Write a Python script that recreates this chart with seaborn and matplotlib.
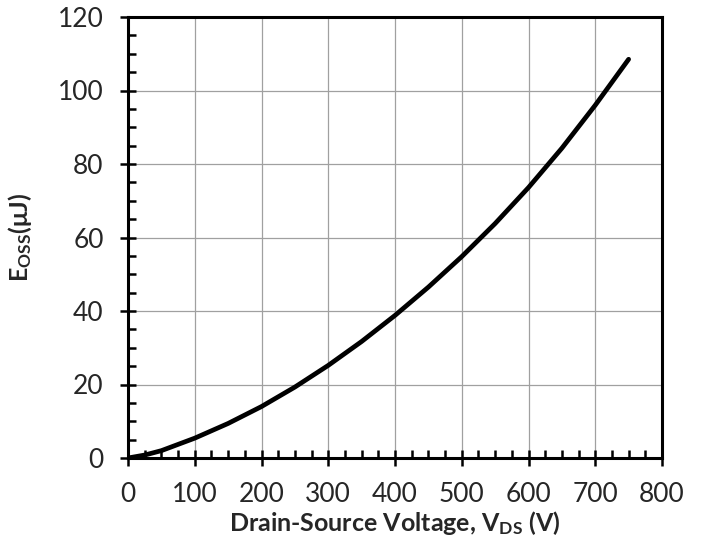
import matplotlib
matplotlib.use("Agg")
import matplotlib.pyplot as plt
from matplotlib.ticker import MultipleLocator
import pandas as pd
import seaborn as sns

# drain-source voltage (V) and output capacitance stored energy (uJ)
vds = [0, 25, 50, 100, 150, 200, 250, 300, 350, 400, 450, 500, 550, 600, 650, 700, 750]
eoss = [0, 0.8, 2.0, 5.4, 9.4, 14.0, 19.3, 25.2, 31.7, 38.8, 46.5, 54.8, 63.8, 73.6, 84.3, 96.0, 108.5]

df = pd.DataFrame({"vds": vds, "eoss": eoss})

sns.set_style("white")
plt.rcParams["font.family"] = ["Lato", "DejaVu Sans"]
plt.rcParams["mathtext.fontset"] = "custom"
plt.rcParams["mathtext.rm"] = "Lato:bold"
plt.rcParams["mathtext.it"] = "Lato:bold"
plt.rcParams["mathtext.bf"] = "Lato:bold"

fig = plt.figure(figsize=(7.04, 5.48), dpi=100)
ax = fig.add_axes([128 / 704, 1 - 458 / 548, (662 - 128) / 704, (458 - 17) / 548])

sns.lineplot(data=df, x="vds", y="eoss", ax=ax, color="black", linewidth=3.4,
             solid_capstyle="round", solid_joinstyle="round", zorder=5)

ax.set_xlim(0, 800)
ax.set_ylim(0, 120)
ax.xaxis.set_major_locator(MultipleLocator(100))
ax.xaxis.set_minor_locator(MultipleLocator(25))
ax.yaxis.set_major_locator(MultipleLocator(20))
ax.yaxis.set_minor_locator(MultipleLocator(5))

ax.grid(True, which="major", color="#a0a0a0", linewidth=0.9)
for s in ax.spines.values():
    s.set_color("black")
    s.set_linewidth(2.2)
    s.set_visible(True)

ax.tick_params(which="major", direction="inout", length=11, width=1.8,
               labelsize=19, pad=12, color="black", left=True, bottom=True)
ax.tick_params(which="minor", direction="in", length=6, width=1.8,
               color="black", left=True, bottom=True)

ax.set_xlabel(r"Drain-Source Voltage, $\mathrm{V_{DS}}$ (V)", fontsize=18,
              fontweight="bold", labelpad=1)
ax.set_ylabel(r"$\mathrm{E_{OSS}}$($\mathrm{\mu}$J)", fontsize=18,
              fontweight="bold", labelpad=17)

fig.savefig("out.png", dpi=100)
